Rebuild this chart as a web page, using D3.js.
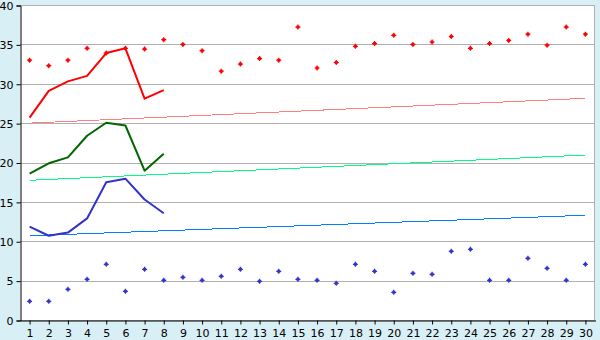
<!DOCTYPE html>
<html><head><meta charset="utf-8">
<script src="https://cdn.jsdelivr.net/npm/d3@7"></script>
<style>
html,body{margin:0;padding:0;background:#d9eff6;}
svg{display:block;}
text{font-family:"DejaVu Sans",Verdana,sans-serif;font-size:11px;fill:#000;}
</style></head><body>
<script>
const categories = d3.range(1, 31);
const yTicks = [0, 5, 10, 15, 20, 25, 30, 35, 40];
const redPoints = [33.0,32.3,33.0,34.5,33.9,34.5,34.4,35.6,35.0,34.2,31.6,32.5,33.2,33.0,37.2,32.0,32.7,34.75,35.1,36.15,35.0,35.3,36.0,34.5,35.1,35.5,36.3,34.9,37.2,36.3];
const bluePoints = [2.37,2.37,3.9,5.17,7.07,3.64,6.43,5.04,5.42,5.04,5.55,6.43,4.91,6.18,5.17,5.04,4.66,7.07,6.18,3.51,5.93,5.8,8.72,8.97,5.04,5.04,7.83,6.56,5.04,7.07];
const redLine = [25.7,29.1,30.3,31.0,33.9,34.5,28.1,29.2];
const greenLine = [18.6,19.9,20.65,23.4,25.05,24.7,18.96,21.1];
const blueLine = [11.85,10.7,11.1,12.9,17.5,17.95,15.3,13.55];
const redTrend = [25.0, 28.15];
const greenTrend = [17.74, 20.95];
const blueTrend = [10.7, 13.3];

const W = 600, H = 340;
const L = 20, R = 595, T = 5, B = 320;
const svg = d3.select("body").append("svg").attr("width", W).attr("height", H);

const x = d3.scaleBand().domain(categories).range([L, R]);
const cx = d => x(d) + x.bandwidth() / 2;
const y = d3.scaleLinear().domain([0, 40]).range([B, T]);

svg.append("rect").attr("x", L).attr("y", T).attr("width", R - L).attr("height", B - T).attr("fill", "#fff");

// gridlines
svg.append("g").selectAll("line").data(yTicks).join("line")
  .attr("x1", L).attr("x2", R).attr("y1", d => Math.round(y(d)) + 0.5).attr("y2", d => Math.round(y(d)) + 0.5)
  .attr("stroke", "#b0b0b0").attr("stroke-width", 1);
svg.append("line").attr("x1", R - 0.5).attr("x2", R - 0.5).attr("y1", T).attr("y2", B).attr("stroke", "#b0b0b0");

// axes
const yAxis = d3.axisLeft(y).tickValues(yTicks).tickSize(4).tickPadding(3);
const gy = svg.append("g").attr("transform", `translate(${L + 0.5},0.5)`).call(yAxis);
gy.select(".domain").attr("stroke", "#000");
gy.selectAll(".tick line").attr("stroke", "#000");
gy.selectAll("text").style("font-size", "11px").attr("dy", "0.35em");

const xAxis = d3.axisBottom(x).tickSize(4).tickPadding(5).tickSizeOuter(0);
const gx = svg.append("g").attr("transform", `translate(0.5,${B + 0.5})`).call(xAxis);
gx.select(".domain").attr("stroke", "#000");
gx.selectAll(".tick line").attr("stroke", "#000");
gx.selectAll("text").style("font-size", "11px");

// trend lines
function trend(vals, color) {
  svg.append("line")
    .attr("x1", cx(categories[0])).attr("x2", cx(categories[categories.length - 1]))
    .attr("y1", y(vals[0])).attr("y2", y(vals[1]))
    .attr("stroke", color).attr("stroke-width", 1).attr("shape-rendering", "crispEdges");
}
trend(redTrend, "#ff8080");
trend(greenTrend, "#00ff80");
trend(blueTrend, "#0080ff");

// lines
const line = d3.line().x((d, i) => cx(categories[i])).y(d => y(d));
function drawLine(vals, color) {
  svg.append("path").datum(vals).attr("d", line).attr("fill", "none")
    .attr("stroke", color).attr("stroke-width", 2).attr("stroke-linejoin", "round");
}
drawLine(redLine, "#ff0000");
drawLine(greenLine, "#006600");
drawLine(blueLine, "#3333cc");

// scatter: small plus-diamond marker
const marker = {
  draw(ctx) {
    const a = 2.5, b = 1.5, c = 0.6;
    ctx.moveTo(-c, -a); ctx.lineTo(c, -a); ctx.lineTo(c, -b); ctx.lineTo(b, -b); ctx.lineTo(b, -c);
    ctx.lineTo(a, -c); ctx.lineTo(a, c); ctx.lineTo(b, c); ctx.lineTo(b, b); ctx.lineTo(c, b);
    ctx.lineTo(c, a); ctx.lineTo(-c, a); ctx.lineTo(-c, b); ctx.lineTo(-b, b); ctx.lineTo(-b, c);
    ctx.lineTo(-a, c); ctx.lineTo(-a, -c); ctx.lineTo(-b, -c); ctx.lineTo(-b, -b); ctx.lineTo(-c, -b);
    ctx.closePath();
  }
};
const sym = d3.symbol().type(marker);
function scatter(vals, color) {
  svg.append("g").selectAll("path").data(vals).join("path")
    .attr("transform", (d, i) => `translate(${cx(categories[i])},${y(d)})`)
    .attr("d", sym).attr("fill", color);
}
scatter(redPoints, "#ff0000");
scatter(bluePoints, "#3333cc");
</script>
</body></html>
